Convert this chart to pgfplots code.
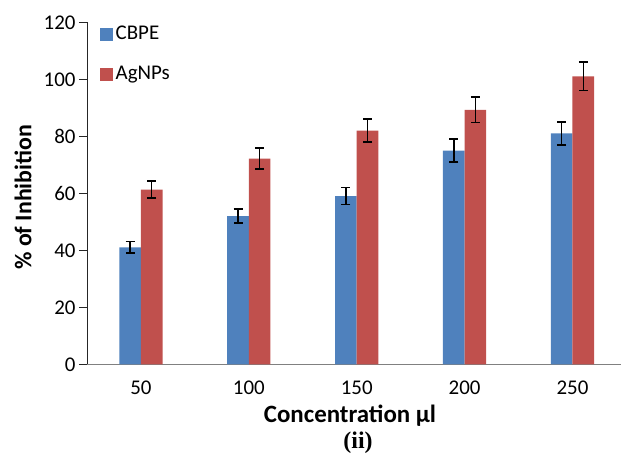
\documentclass[border=0pt]{standalone}
\usepackage{pgfplots}
\pgfplotsset{compat=1.18}
\usepackage{fontspec}
\setmainfont{Carlito}
\newfontfamily\serifbold{Liberation Serif}
\definecolor{cblue}{HTML}{4F81BD}
\definecolor{cred}{HTML}{C0504D}
\begin{document}
\begin{tikzpicture}
\path[use as bounding box] (-87bp,-96.7bp) rectangle (534bp,364.3bp);
\begin{axis}[
  at={(0,0)}, anchor=south west,
  scale only axis, width=534bp, height=342bp,
  xmin=-0.5, xmax=4.45, ymin=0, ymax=120,
  ybar=0pt, bar width=21.6bp,
  axis x line=bottom, axis y line=left, axis line style={-},
  x axis line style={draw=gray, line width=1.2bp},
  y axis line style={draw=black!85, line width=0.9bp},
  xtick={0,1,2,3,4}, xticklabels={50,100,150,200,250},
  x tick style={draw=none},
  ytick={0,20,40,60,80,100,120},
  y tick style={draw=black!85, line width=0.9bp},
  tick align=outside, major tick length=8bp,
  tick label style={font=\fontsize{21}{25}\selectfont},
  xticklabel style={yshift=-5bp},
  /pgf/number format/assume math mode=true,
  error bars/error bar style={black, line width=1.5bp},
  error bars/error mark options={rotate=90, mark size=4.5bp, line width=1.5bp, black},
  legend style={at={(13bp,343bp)}, anchor=north west, draw=none, fill=none,
    inner sep=0pt, row sep=14bp,
    font=\fontsize{21}{25}\selectfont,
    nodes={inner sep=3bp, text height=15bp, text depth=5bp}},
  legend cell align=left,
  legend image code/.code={\fill[#1, draw=none] (0bp,-6.5bp) rectangle (12.5bp,6.5bp);},
]
\addplot[fill=cblue, draw=none,
  error bars/.cd, y dir=both, y explicit]
  coordinates {(0,41) +- (0,2) (1,52) +- (0,2.5) (2,59) +- (0,3) (3,75) +- (0,4) (4,81) +- (0,4)};
\addlegendentry{CBPE}
\addplot[fill=cred, draw=none,
  error bars/.cd, y dir=both, y explicit]
  coordinates {(0,61.3) +- (0,3) (1,72.2) +- (0,3.7) (2,82) +- (0,4) (3,89.3) +- (0,4.5) (4,101) +- (0,5)};
\addlegendentry{AgNPs}
\end{axis}
\node[rotate=90, font=\bfseries\fontsize{24}{28}\selectfont] at (-64bp,167bp) {\% of Inhibition};
\node[font=\bfseries\fontsize{25}{29}\selectfont] at (263bp,-51bp) {Concentration µl};
\node[font=\serifbold\bfseries\fontsize{24}{28}\selectfont] at (271bp,-78bp) {(ii)};
\end{tikzpicture}
\end{document}
